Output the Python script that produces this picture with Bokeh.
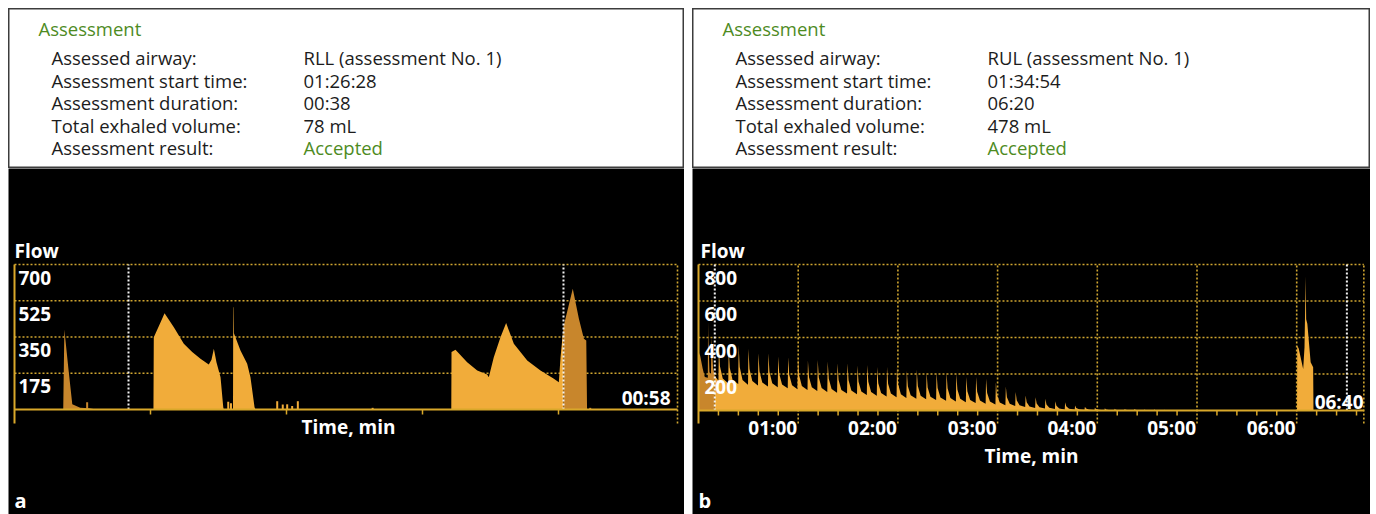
from bokeh.plotting import figure
from bokeh.models import Range1d, Spacer
from bokeh.layouts import row, column
from bokeh.embed import file_html
from bokeh.resources import INLINE
from bokeh.core.properties import value

# ---------------- data ----------------
header_title = "Assessment"
header_labels = ["Assessed airway:", "Assessment start time:", "Assessment duration:",
                 "Total exhaled volume:", "Assessment result:"]
left_values = ["RLL (assessment No. 1)", "01:26:28", "00:38", "78 mL", "Accepted"]
right_values = ["RUL (assessment No. 1)", "01:34:54", "06:20", "478 mL", "Accepted"]

# panel a (time in seconds, flow)
l_end = 58.5
l_end_label = "00:58"
l_y_ticks = [175, 350, 525, 700]
l_y_labels = ["175", "350", "525", "700"]
l_minor_ticks = [12, 24, 36, 48]
l_marks = [10.06, 48.44]          # assessment start / end
l_pre_t = [4.30, 4.40, 4.75, 5.10, 5.80, 6.60, 7.20]
l_pre_flow = [0, 386, 200, 25, 8, 6, 0]
l_mid_t = [12.26, 12.29, 12.88, 13.24, 14.06, 14.94, 15.68, 16.41, 17.14, 17.38, 17.59, 17.82,
           18.18, 18.42, 18.47,
           19.28, 19.30, 19.33, 19.36, 19.94, 20.53, 20.82, 21.18, 21.27,
           38.54, 38.56, 38.91, 39.94, 40.83, 41.71, 41.85, 42.29, 42.88, 43.38, 44.06, 45.24,
           46.41, 47.59, 48.03, 48.18, 48.44]
l_mid_flow = [0, 349, 420, 465, 397, 317, 277, 245, 217, 240, 293, 228,
              156, 11, 0,
              0, 494, 494, 368, 285, 221, 156, 11, 0,
              0, 277, 288, 228, 188, 169, 156, 252, 349, 417, 317, 237,
              188, 148, 132, 252, 400]
l_post_t = [48.44, 49.26, 49.80, 50.24, 50.45, 50.52]
l_post_flow = [400, 583, 438, 341, 333, 0]
l_blip_t = [6.41, 18.86, 19.10, 23.18, 23.67, 24.06, 24.50, 25.00, 31.60, 50.80]
l_blip_flow = [35, 37, 30, 40, 24, 25, 17, 40, 8, 8]

# panel b (time in seconds, flow)
r_end = 400.4
r_end_label = "06:40"
r_y_ticks = [200, 400, 600, 800]
r_y_labels = ["200", "400", "600", "800"]
r_x_ticks = [60, 120, 180, 240, 300, 360]
r_x_labels = ["01:00", "02:00", "03:00", "04:00", "05:00", "06:00"]
r_minor_ticks = [12, 24, 36, 48, 72, 84, 96, 108, 132, 144, 156, 168, 192, 204, 216, 228,
                 252, 264, 276, 288, 312, 324, 336, 348, 372, 384, 396]
r_marks = [9.8, 390.2]
r_pre_t = [0.0, 0.05, 1.0, 2.5, 3.8, 5.6, 5.75, 5.85, 6.6, 7.5, 7.75, 8.8, 9.8]
r_pre_flow = [0, 320, 300, 230, 183, 180, 493, 420, 210, 200, 400, 230, 190]
r_mid_start_t = [9.8, 11.9]
r_mid_start_flow = [190, 165]
r_breath_t = [12.0, 17.9, 23.9, 29.8, 35.8, 41.8, 47.7, 53.7, 59.6, 65.6, 71.5, 77.5, 83.4,
              89.4, 95.4, 101.3, 107.3, 113.2, 119.2, 125.1, 131.1, 137.0, 143.0, 149.0,
              154.9, 160.9, 166.8, 172.8, 178.7, 184.7, 190.6, 196.6, 202.6, 208.5, 214.5,
              220.4, 226.4, 232.3, 238.3, 244.3, 250.2, 256.2, 262.1, 268.1, 274.0, 280.0]
r_breath_peak = [356, 343, 356, 338, 314, 314, 296, 292, 296, 274, 277, 268, 259,
                 259, 247, 250, 238, 238, 238, 216, 223, 210, 210, 210,
                 201, 183, 183, 174, 155, 132, 101, 82, 73, 64, 51,
                 45, 27, 20, 15, 12, 10, 8, 8, 6, 5, 4]
r_breath_trough = [150, 145, 141, 137, 132, 127, 122, 117, 112, 107, 102, 97, 93,
                   89, 85, 81, 77, 73, 69, 65, 61, 57, 53, 49,
                   45, 41, 37, 33, 29, 24, 19, 14, 11, 8, 6,
                   5, 4, 3, 2, 1, 0, 0, 0, 0, 0, 0]
r_last_t = [360.2, 360.3, 361.2, 363.9, 364.7, 365.4, 365.7, 366.4, 368.4, 369.9, 370.1]
r_last_flow = [0, 356, 340, 228, 347, 734, 500, 475, 265, 237, 0]

# ---------------- style ----------------
FONT = "Open Sans"
GREEN = "#4E8B1F"
TXT = "#1c1c1c"
FILL = "#F1AC3A"
FILL_DARK = "#C8862C"
GRID = "#CFA530"
AXIS = "#D9A82A"
MARK = "#F2F2F2"
LW_ = 676   # left panel width
RW_ = 678   # right panel width
HH = 160
CH = 346


def header(values, W):
    p = figure(width=W, height=HH, x_range=Range1d(0, W), y_range=Range1d(HH, 0),
               output_backend="svg", toolbar_location=None, min_border=0,
               x_axis_type=None, y_axis_type=None)
    p.background_fill_color = "white"
    p.border_fill_color = "white"
    p.outline_line_color = "#3c3c3c"
    p.outline_line_width = 2
    p.text(x=[30], y=[20], text=[header_title], text_color=GREEN, text_font=value(FONT),
           text_font_size="18.5px", text_baseline="middle")
    ys = [49 + 22.5 * i for i in range(len(header_labels))]
    p.text(x=[43] * len(header_labels), y=ys, text=header_labels, text_color=TXT,
           text_font=value(FONT), text_font_size="18.5px", text_baseline="middle")
    cols = [TXT] * (len(values) - 1) + [GREEN]
    p.text(x=[295] * len(values), y=ys, text=values, text_color=cols,
           text_font=value(FONT), text_font_size="18.5px", text_baseline="middle")
    return p


def chart(W, ppx, ppy, base_px, x0_px=6):
    xr = Range1d(-x0_px / ppx, (W - x0_px) / ppx)
    yr = Range1d(-(CH - base_px) / ppy, base_px / ppy)
    p = figure(width=W, height=CH, x_range=xr, y_range=yr, output_backend="svg",
               toolbar_location=None, min_border=0, x_axis_type=None, y_axis_type=None)
    p.background_fill_color = "black"
    p.border_fill_color = "black"
    p.outline_line_color = None
    fx = lambda px: (px - x0_px) / ppx
    fy = lambda py: (base_px - py) / ppy
    return p, fx, fy


def txt(p, x, y, s, align="left", size="19px", base="middle"):
    p.text(x=[x], y=[y], text=[s], text_color="white", text_font=value(FONT),
           text_font_size=size, text_font_style="bold", text_align=align, text_baseline=base)


# ---------------- panel a ----------------
pa, ax, ay = chart(LW_, 663 / 58.5, 145 / 700, 241)
top = l_y_ticks[-1]
low = ay(255)
pa.segment(x0=[0] * 4, y0=l_y_ticks, x1=[l_end] * 4, y1=l_y_ticks, line_color=GRID,
           line_width=1.6, line_dash="2 2")
pa.segment(x0=[l_end], y0=[low], x1=[l_end], y1=[top], line_color=GRID, line_width=1.6,
           line_dash="2 2")
pa.varea(x=l_pre_t, y1=0, y2=l_pre_flow, fill_color=FILL_DARK)
pa.varea(x=l_mid_t, y1=0, y2=l_mid_flow, fill_color=FILL)
pa.varea(x=l_post_t, y1=0, y2=l_post_flow, fill_color=FILL_DARK)
bc = [FILL_DARK if (t < l_marks[0] or t > l_marks[1]) else FILL for t in l_blip_t]
pa.segment(x0=l_blip_t, y0=[0] * len(l_blip_t), x1=l_blip_t, y1=l_blip_flow, line_color=bc,
           line_width=2)
pa.segment(x0=l_marks, y0=[0, 0], x1=l_marks, y1=[top, top], line_color=MARK, line_width=2,
           line_dash="2 2")
pa.segment(x0=[0], y0=[0], x1=[l_end], y1=[0], line_color=AXIS, line_width=2)
pa.segment(x0=[0], y0=[low], x1=[0], y1=[top], line_color=AXIS, line_width=2)
tick_len = ay(246)
pa.segment(x0=l_minor_ticks, y0=[0] * 4, x1=l_minor_ticks, y1=[tick_len] * 4,
           line_color=AXIS, line_width=1.5)
for v, s in zip(l_y_ticks, l_y_labels):
    txt(pa, ax(10), v - 13 / (145 / 700), s)
txt(pa, ax(6), ay(82), "Flow")
txt(pa, ax(340), ay(258), "Time, min", align="center")
txt(pa, ax(662), ay(229), l_end_label, align="right")
txt(pa, ax(6), ay(332), "a", size="20px")

# ---------------- panel b ----------------
pb, bx, by = chart(RW_, 99.7 / 60, 146 / 800, 242)
top = r_y_ticks[-1]
low = by(255)
pb.segment(x0=[0] * 4, y0=r_y_ticks, x1=[r_end] * 4, y1=r_y_ticks, line_color=GRID,
           line_width=1.6, line_dash="2 2")
n = len(r_x_ticks)
pb.segment(x0=r_x_ticks + [r_end], y0=[low] * (n + 1), x1=r_x_ticks + [r_end],
           y1=[top] * (n + 1), line_color=GRID, line_width=1.6, line_dash="2 2")
pb.varea(x=r_pre_t, y1=0, y2=r_pre_flow, fill_color=FILL_DARK)

# breathing waveform built from the per-breath readings (peak, trough)
mx = list(r_mid_start_t)
my = list(r_mid_start_flow)
prev = r_mid_start_flow[-1]
for i, (t, pk, tr) in enumerate(zip(r_breath_t, r_breath_peak, r_breath_trough)):
    nxt = r_breath_t[i + 1] if i + 1 < len(r_breath_t) else t + 6
    mx += [t, t + 0.25, t + 0.9, t + 2.6, nxt - 0.05]
    my += [prev, pk, tr + 0.45 * (pk - tr), tr + 0.12 * (pk - tr), tr]
    prev = tr
mx += [mx[-1] + 0.05]
my += [0]
pb.varea(x=mx, y1=0, y2=my, fill_color=FILL)
pb.varea(x=r_last_t, y1=0, y2=r_last_flow, fill_color=FILL)
pb.segment(x0=r_marks, y0=[0, 0], x1=r_marks, y1=[top, top], line_color=MARK, line_width=2,
           line_dash="2 2")
pb.segment(x0=[0], y0=[0], x1=[r_end], y1=[0], line_color=AXIS, line_width=2)
pb.segment(x0=[0], y0=[low], x1=[0], y1=[top], line_color=AXIS, line_width=2)
tick_len = by(247)
pb.segment(x0=r_minor_ticks, y0=[0] * len(r_minor_ticks), x1=r_minor_ticks,
           y1=[tick_len] * len(r_minor_ticks), line_color=AXIS, line_width=1.5)
for v, s in zip(r_y_ticks, r_y_labels):
    txt(pb, bx(12), v - 13 / (146 / 800), s)
for t, s in zip(r_x_ticks, r_x_labels):
    txt(pb, t - 1.0 / (99.7 / 60), by(259), s, align="right")
txt(pb, bx(8), by(82), "Flow")
txt(pb, bx(339), by(287), "Time, min", align="center")
txt(pb, bx(671), by(233), r_end_label, align="right")
txt(pb, bx(6), by(332), "b", size="20px")

left_col = column(Spacer(width=LW_, height=8), header(left_values, LW_), pa, spacing=0)
right_col = column(Spacer(width=RW_, height=8), header(right_values, RW_), pb, spacing=0)
layout = row(Spacer(width=8, height=514), left_col, Spacer(width=8, height=514), right_col,
             spacing=0)

open("out.html", "w").write(file_html(layout, INLINE))
